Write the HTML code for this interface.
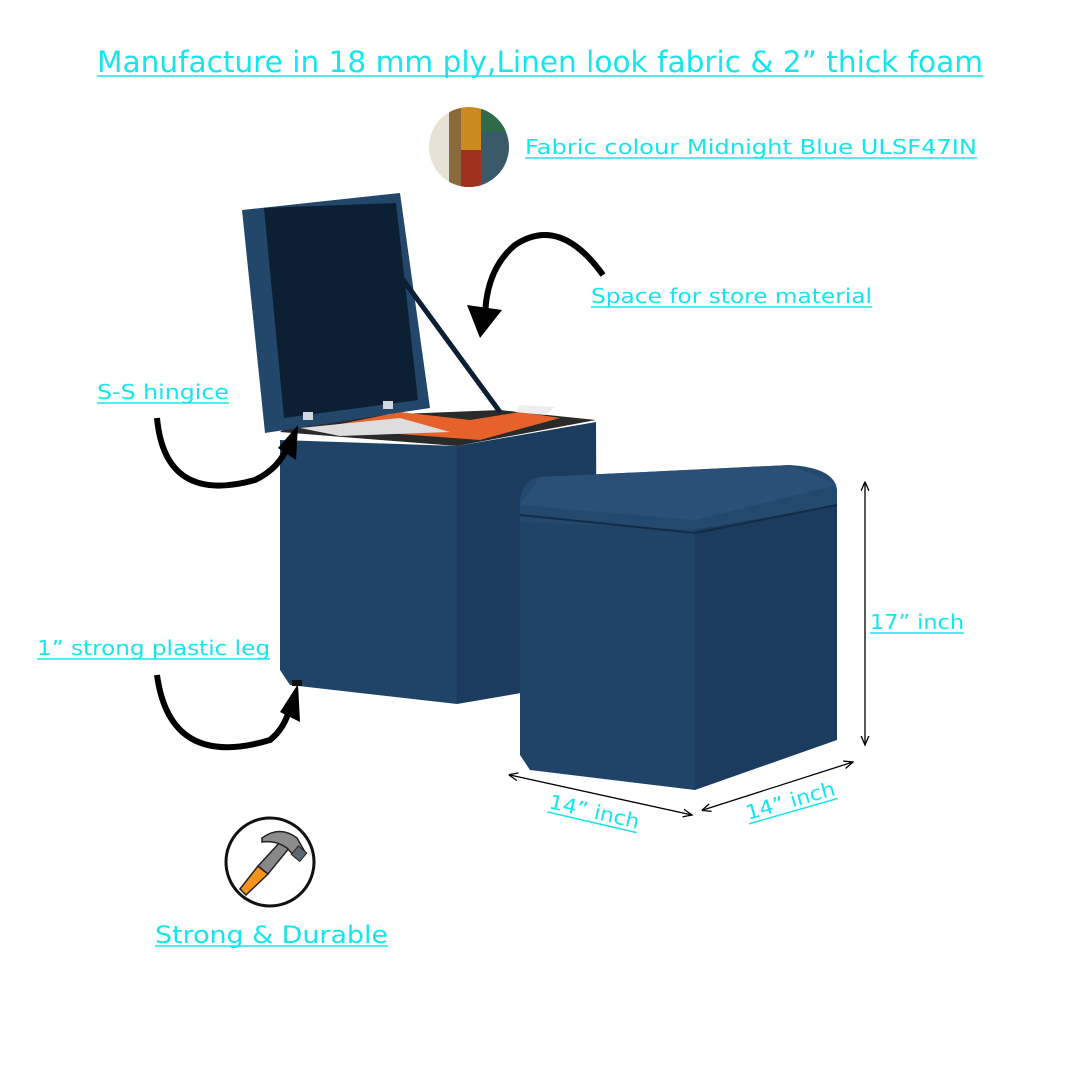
<!DOCTYPE html>
<html><head><meta charset="utf-8"><style>
body{margin:0;background:#fff;}
svg{display:block}
text{font-family:"DejaVu Sans","Liberation Sans",sans-serif;fill:#16e6ec;}
</style></head><body>
<svg width="1080" height="1080" viewBox="0 0 1080 1080" xmlns="http://www.w3.org/2000/svg">
<defs>
<marker id="ah" markerWidth="8" markerHeight="8" refX="7" refY="4" orient="auto"><path d="M0,1 L7,4 L0,7" fill="none" stroke="#000" stroke-width="1"/></marker>
<marker id="ah2" markerWidth="8" markerHeight="8" refX="1" refY="4" orient="auto"><path d="M7,1 L0,4 L7,7" fill="none" stroke="#000" stroke-width="1"/></marker>
</defs>
<rect width="1080" height="1080" fill="#fff"/>
<text x="97" y="72" font-size="29" textLength="886" lengthAdjust="spacingAndGlyphs">Manufacture in 18 mm ply,Linen look fabric &amp; 2” thick foam</text>
<line x1="97" y1="76" x2="983" y2="76" stroke="#16e6ec" stroke-width="1.5"/>
<clipPath id="cc"><circle cx="469" cy="147" r="40"/></clipPath>
<g clip-path="url(#cc)">
<rect x="429" y="107" width="20" height="80" fill="#e8e2d6"/>
<rect x="449" y="107" width="12" height="80" fill="#8a6a3a"/>
<rect x="461" y="107" width="20" height="80" fill="#c98a1e"/>
<rect x="481" y="107" width="28" height="80" fill="#3a5a6a"/>
<rect x="461" y="150" width="20" height="37" fill="#a03020"/>
<rect x="481" y="107" width="28" height="25" fill="#2f6a4a"/>
</g>
<text x="525" y="154" font-size="20" textLength="452" lengthAdjust="spacingAndGlyphs">Fabric colour Midnight Blue ULSF47IN</text>
<line x1="525" y1="158" x2="977" y2="158" stroke="#16e6ec" stroke-width="1.5"/>
<text x="591" y="303" font-size="20" textLength="281" lengthAdjust="spacingAndGlyphs">Space for store material</text>
<line x1="591" y1="307" x2="872" y2="307" stroke="#16e6ec" stroke-width="1.5"/>
<text x="97" y="399" font-size="20" textLength="132" lengthAdjust="spacingAndGlyphs">S-S hingice</text>
<line x1="97" y1="403" x2="229" y2="403" stroke="#16e6ec" stroke-width="1.5"/>
<text x="37" y="655" font-size="20" textLength="233" lengthAdjust="spacingAndGlyphs">1” strong plastic leg</text>
<line x1="37" y1="659" x2="270" y2="659" stroke="#16e6ec" stroke-width="1.5"/>
<text x="870" y="629" font-size="20" textLength="94" lengthAdjust="spacingAndGlyphs">17” inch</text>
<line x1="870" y1="633" x2="964" y2="633" stroke="#16e6ec" stroke-width="1.5"/>
<g transform="translate(548,808) rotate(13)"><text x="0" y="0" font-size="20" textLength="92" lengthAdjust="spacingAndGlyphs">14” inch</text><line x1="0" y1="4" x2="92" y2="4" stroke="#16e6ec" stroke-width="1.5"/></g>
<g transform="translate(748,820) rotate(-16)"><text x="0" y="0" font-size="20" textLength="92" lengthAdjust="spacingAndGlyphs">14” inch</text><line x1="0" y1="4" x2="92" y2="4" stroke="#16e6ec" stroke-width="1.5"/></g>
<text x="155" y="943" font-size="24" textLength="233" lengthAdjust="spacingAndGlyphs">Strong &amp; Durable</text>
<line x1="155" y1="946" x2="388" y2="946" stroke="#16e6ec" stroke-width="1.5"/>
<!-- hammer -->
<circle cx="270" cy="862" r="44" fill="#fff" stroke="#111" stroke-width="3"/>
<path d="M246,895 L240,889 L258,866 L268,874 Z" fill="#f7941d" stroke="#222" stroke-width="1.5"/>
<path d="M258,866 L282,840 L290,847 L268,874 Z" fill="#888" stroke="#222" stroke-width="1.5"/>
<path d="M262,838 Q280,825 297,838 L305,852 L296,858 L287,848 Q276,840 262,842 Z" fill="#8c8c8c" stroke="#222" stroke-width="1.5"/>
<rect x="294" y="848" width="11" height="11" fill="#5a6670" stroke="#222" stroke-width="1" transform="rotate(40 299 853)"/>
<!-- tall ottoman -->
<path d="M280,440 L457,446 L457,704 L290,685 L280,670 Z" fill="#1f4468"/>
<path d="M457,446 L596,422 L597,680 L457,704 Z" fill="#1b3c5e"/>
<path d="M300,418 L500,410 L596,420 L457,446 L280,432 Z" fill="#2a2a2a"/>
<path d="M320,428 L400,412 L470,420 L520,412 L560,418 L480,440 Z" fill="#e6622a"/>
<path d="M300,428 L400,418 L450,432 L340,436 Z" fill="#ddd"/>
<path d="M520,405 L555,407 L545,415 L515,412 Z" fill="#eee"/>
<path d="M242,210 L400,193 L430,408 L265,433 Z" fill="#23476b"/>
<path d="M264,208 L396,203 L418,400 L284,418 Z" fill="#0d1f33"/>
<line x1="390" y1="262" x2="500" y2="412" stroke="#0d1f33" stroke-width="5"/>
<rect x="303" y="412" width="10" height="8" fill="#cfd8e0"/>
<rect x="383" y="401" width="10" height="8" fill="#cfd8e0"/>
<rect x="292" y="680" width="10" height="6" fill="#111"/>
<!-- small ottoman -->
<path d="M520,522 L695,527 L695,790 L530,770 L520,755 Z" fill="#1f4468"/>
<path d="M695,527 L837,500 L837,740 L695,790 Z" fill="#1b3c5e"/>
<path d="M520,500 Q522,480 540,477 L790,465 Q835,468 837,490 L837,505 L695,530 L520,522 Z" fill="#24496e"/>
<path d="M520,515 L695,533 L837,505" fill="none" stroke="#142c45" stroke-width="2"/>
<path d="M520,505 L540,477 L790,465 L837,485 L695,520 Z" fill="#2a5078"/>
<line x1="510" y1="775" x2="692" y2="815" stroke="#000" stroke-width="1.3" marker-start="url(#ah2)" marker-end="url(#ah)"/>
<line x1="703" y1="810" x2="853" y2="762" stroke="#000" stroke-width="1.3" marker-start="url(#ah2)" marker-end="url(#ah)"/>
<line x1="865" y1="483" x2="865" y2="745" stroke="#000" stroke-width="1.3" marker-start="url(#ah2)" marker-end="url(#ah)"/>
<path d="M603,275 Q560,215 515,245 Q485,270 485,320" fill="none" stroke="#000" stroke-width="6"/>
<path d="M467,305 L480,338 L502,310 Z" fill="#000"/>
<path d="M157,418 Q165,505 255,480 Q280,468 288,445" fill="none" stroke="#000" stroke-width="6"/>
<path d="M278,448 L298,425 L296,460 Z" fill="#000"/>
<path d="M157,675 Q170,770 270,740 Q285,728 290,707" fill="none" stroke="#000" stroke-width="6"/>
<path d="M280,712 L298,684 L300,722 Z" fill="#000"/>
</svg>
</body></html>
